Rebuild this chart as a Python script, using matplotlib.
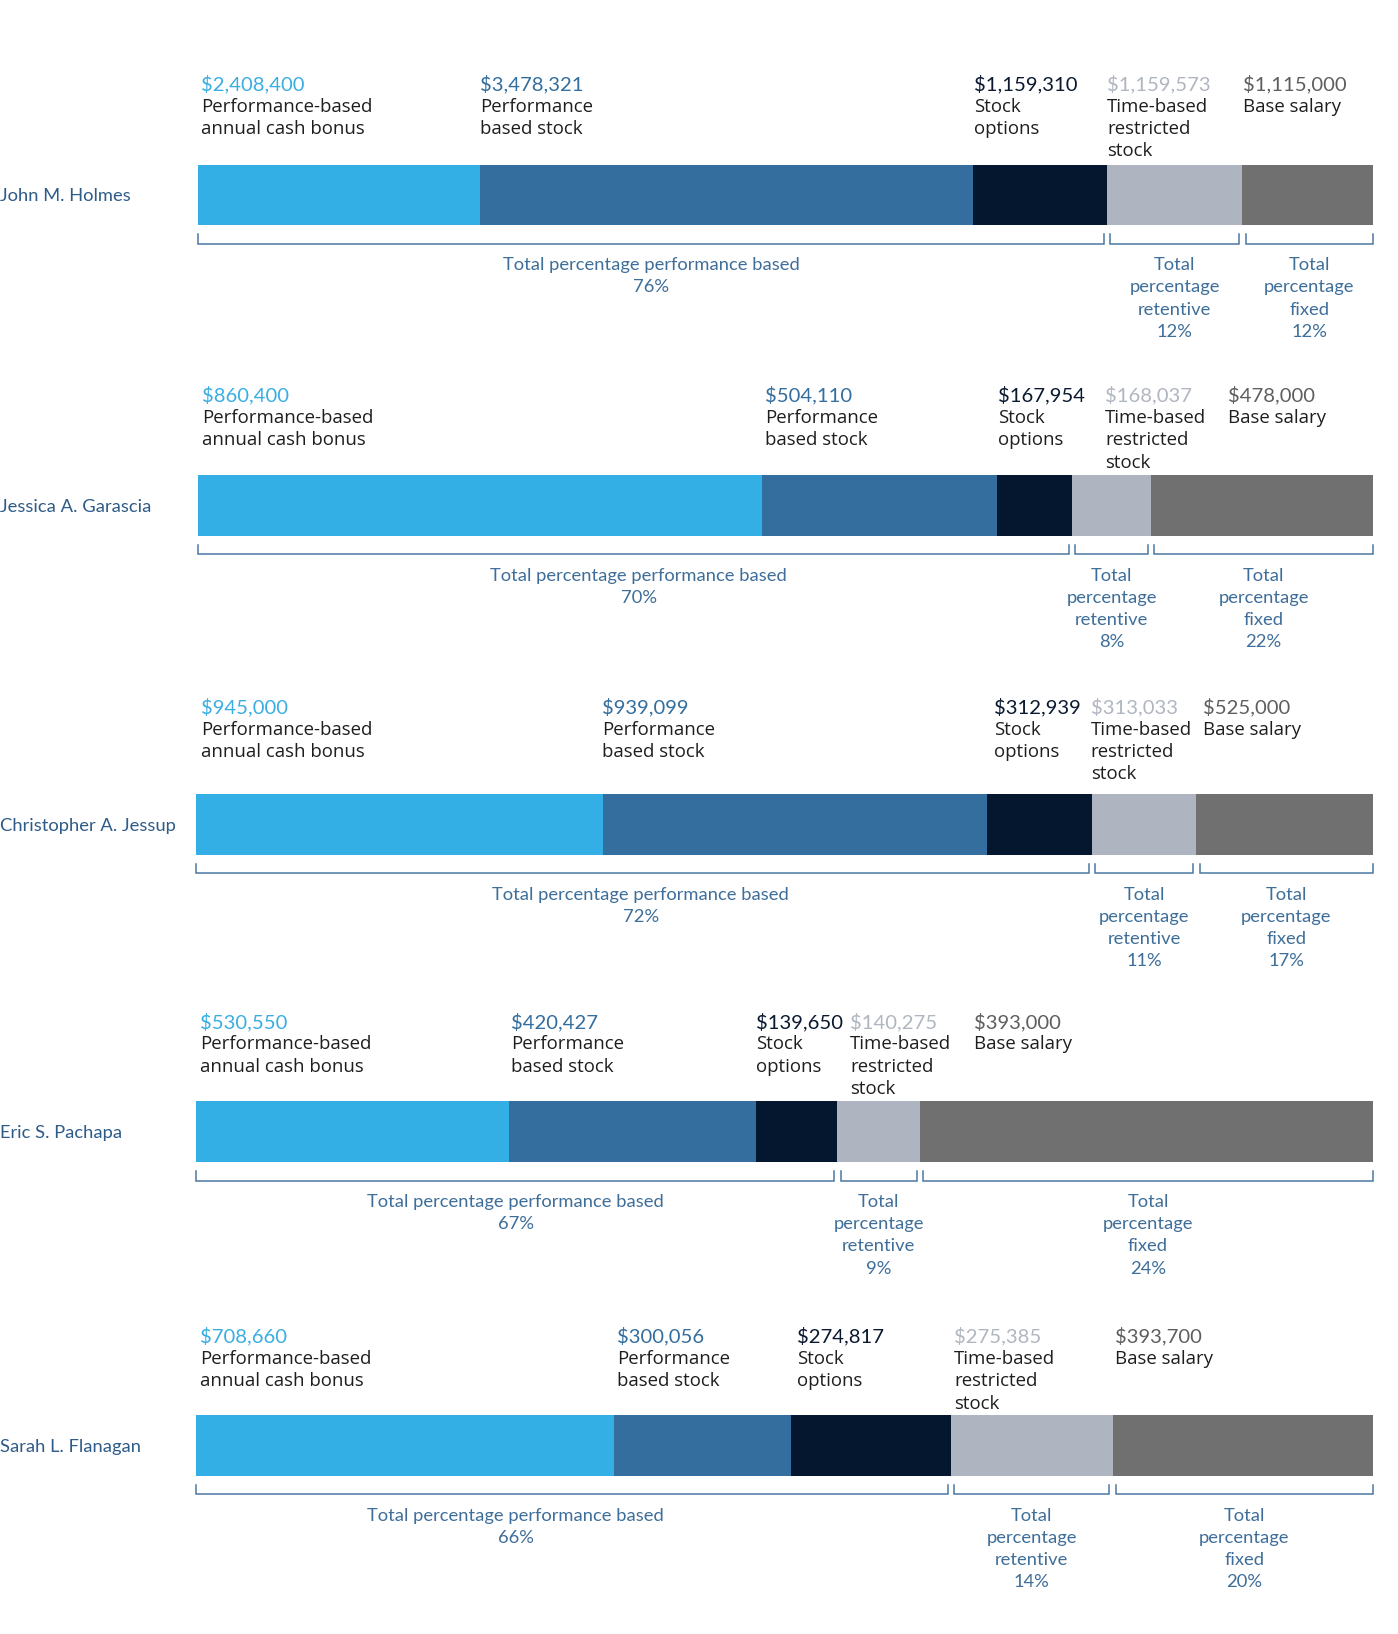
import matplotlib
matplotlib.use("Agg")
import matplotlib.pyplot as plt
import numpy as np

plt.rcParams['font.family'] = ['Lato', 'DejaVu Sans']

# ---------------- data ----------------
names = ["John M. Holmes", "Jessica A. Garascia", "Christopher A. Jessup",
         "Eric S. Pachapa", "Sarah L. Flanagan"]
components = ["Performance-based\nannual cash bonus", "Performance\nbased stock",
              "Stock\noptions", "Time-based\nrestricted\nstock", "Base salary"]

cash_bonus = [2408400, 860400, 945000, 530550, 708660]
perf_stock = [3478321, 504110, 939099, 420427, 300056]
stock_options = [1159310, 167954, 312939, 139650, 274817]
time_stock = [1159573, 168037, 313033, 140275, 275385]
base_salary = [1115000, 478000, 525000, 393000, 393700]

# bar segment shares as drawn (percent of bar length)
share_cash = [24.0, 48.0, 34.6, 26.6, 35.5]
share_perf = [41.9, 20.0, 32.6, 21.0, 15.0]
share_opt = [11.4, 6.4, 8.9, 6.9, 13.6]
share_time = [11.5, 6.7, 8.9, 7.0, 13.7]
share_base = [11.1, 18.9, 15.0, 38.5, 22.1]

pct_performance = [76, 70, 72, 67, 66]
pct_retentive = [12, 8, 11, 9, 14]
pct_fixed = [12, 22, 17, 24, 20]

# ---------------- style / layout ----------------
seg_colors = ['#33AFE6', '#336E9E', '#04172F', '#AEB5C0', '#707070']
amt_colors = ['#3AAEE3', '#336E9E', '#0A1930', '#B0B6C0', '#5E5E5E']
desc_color = '#1E1E1E'
blue_txt = '#3E6E99'
bracket_col = '#4A78A3'
name_col = '#2E5B88'

W, H = 1342, 1568          # layout units
bar_left = [190, 190, 188, 188, 188]
bar_right = 1318
bar_top = [158, 456, 762, 1057, 1358]
bar_h = 58
amt_y = [79, 378, 677, 979, 1281]
label_x = [[193, 461, 935, 1063, 1193],
           [194, 734, 958, 1061, 1179],
           [193, 578, 954, 1047, 1155],
           [192, 491, 726, 816, 935],
           [192, 592, 765, 916, 1070]]
perf_label_x = [625, 613, 615, 495, 495]
line_gap = 21.3
fs = 13.2

fig = plt.figure(figsize=(13.98, 16.34), dpi=100)
fig.patch.set_facecolor('white')
ov = fig.add_axes([0, 0, 1, 1])
ov.set_xlim(0, W)
ov.set_ylim(H, 0)
ov.axis('off')

amounts = [cash_bonus, perf_stock, stock_options, time_stock, base_salary]
shares = [share_cash, share_perf, share_opt, share_time, share_base]

for r, name in enumerate(names):
    s = np.array([sh[r] for sh in shares], dtype=float)
    total = s.sum()
    bl = bar_left[r]
    ax = fig.add_axes([bl / W, 0, (bar_right - bl) / W, 1])
    ax.set_xlim(0, total)
    ax.set_ylim(H, 0)
    ax.axis('off')
    lefts = np.concatenate([[0], np.cumsum(s)[:-1]])
    yc = bar_top[r] + bar_h / 2
    ax.barh([yc] * 5, s, left=lefts, height=bar_h, color=seg_colors,
            edgecolor='none')

    # name
    ov.text(0, yc, name, color=name_col, fontsize=fs, ha='left',
            va='center_baseline')

    # labels above
    for c in range(5):
        x = label_x[r][c]
        ov.text(x, amt_y[r], f"${amounts[c][r]:,}", color=amt_colors[c],
                fontsize=fs + 1.4, ha='left', va='center_baseline')
        for i, ln in enumerate(components[c].split('\n')):
            ov.text(x, amt_y[r] + line_gap * (i + 1), ln, color=desc_color,
                    fontsize=13.4, ha='left', va='center_baseline',
                    family=['Open Sans', 'DejaVu Sans'])

    # brackets
    px = total / (bar_right - bl)      # data units per layout unit
    gap = 3 * px
    b_bot = bar_top[r] + bar_h
    y_tick0, y_line = b_bot + 9, b_bot + 18
    cum = np.cumsum(s)
    spans = [(0, cum[2] - gap), (cum[2] + gap, cum[3] - gap),
             (cum[3] + gap, total)]
    texts = [f"Total percentage performance based\n{pct_performance[r]}%",
             f"Total\npercentage\nretentive\n{pct_retentive[r]}%",
             f"Total\npercentage\nfixed\n{pct_fixed[r]}%"]
    for k, ((x0, x1), t) in enumerate(zip(spans, texts)):
        ax.plot([x0, x0, x1, x1], [y_tick0, y_line, y_line, y_tick0],
                color=bracket_col, lw=1.1, clip_on=False,
                solid_joinstyle='miter')
        if k == 0:
            xm = (perf_label_x[r] - bl) * px
        else:
            xm = (x0 + x1) / 2
        for i, ln in enumerate(t.split('\n')):
            ax.text(xm, b_bot + 37 + line_gap * i, ln, color=blue_txt,
                    fontsize=fs, ha='center', va='center_baseline',
                    clip_on=False)

fig.savefig('out.png', dpi=100, facecolor='white')
